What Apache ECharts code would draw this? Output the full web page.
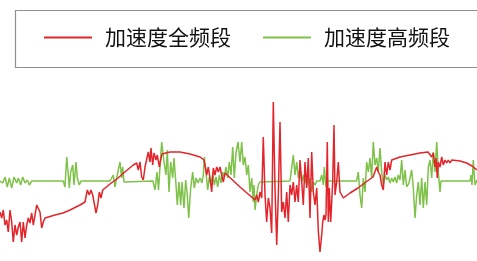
<!DOCTYPE html>
<html>
<head>
<meta charset="utf-8">
<script src="https://cdn.jsdelivr.net/npm/echarts@6/dist/echarts.min.js"></script>
<style>
  html, body { margin: 0; padding: 0; background: #fff; }
  #main { width: 477px; height: 261px; }
</style>
</head>
<body>
<div id="main"></div>
<script>
// series names
var seriesNames = ['加速度全频段', '加速度高频段'];

// 加速度全频段 : sample time / value
var fullT = [0, 1.7, 3.3, 5, 6.7, 8.3, 10, 11.7, 13.3, 15, 16.7, 18.3, 20, 21.7, 23.3, 25, 26.7, 28.3, 30, 31.7, 33.3, 35, 36.7, 38.3, 40, 41.7, 43.3, 45, 46.7,
  55, 63, 70, 76, 80, 85,
  87.3, 89.3, 91, 92.7, 94.3, 96, 97.7, 99.3, 101, 102.7,
  110, 118, 126, 133.3,
  135, 136.7, 138.3, 140, 141.7, 143.3, 145, 146.7, 148.3, 150, 151, 152.7, 154, 156, 157.3, 159.3, 160, 162,
  170, 180, 190, 200, 204,
  205, 206.7, 208.3, 210, 211.7, 213.3, 215, 216.7, 218.3, 220, 221.7, 223.3, 225, 226.7,
  240, 255,
  256.7, 258.3, 260, 261.7, 263.3, 265, 266.7, 268.3, 270, 271.7, 273.3, 275, 276.7, 278.3, 280, 281.7, 283.3, 285, 286.7, 288.3, 290, 291.7, 293.3, 295, 296.7, 298.3, 300, 301.7, 303.3, 305, 306.7, 308.3, 310, 311.7, 313.3, 315, 316.7, 318.3, 320, 321.7, 322.7, 324, 325, 326, 327.3, 328.3, 329.3, 330.7, 332.7, 334, 335, 336.7, 338.3, 340, 341.7, 343.3,
  350, 358, 366, 373,
  375, 376.7, 378.3, 380, 381.7, 383.3, 385, 386.7, 388.3, 390, 391.7,
  400, 410, 420, 428,
  431.7, 433.3, 435, 436, 437.3, 438.3, 440, 441.7, 443.3, 445, 446.7, 448.3, 450, 451.7,
  453.3, 460, 466.7, 472, 477];
var fullAcc = [-31, -37, -29, -44, -39, -51, -29, -41, -61, -44, -54, -46, -41, -61, -41, -57, -44, -37, -42, -32, -44, -34, -24, -22, -31, -47, -41, -37, -36,
  -34, -32, -29, -26, -24, -21,
  -9, -14, -9, -14, -12, -32, -24, -11, -17, -9,
  -3, 3, 10, 16,
  14, 18, 11, 19, 4, 1, 14, 16, 29, 19, 33, 16, 28, 21, 26, 14, 18, 27,
  29, 29, 27, 24, 21,
  19, 6, 14, 3, -11, 13, 6, 14, 9, 14, 6, -1, 8, 6,
  -6, -19,
  -14, -21, -11, -17, 44, -14, -41, -17, -27, -52, 79, -7, -64, -14, 59, -31, -21, -37, -11, -41, -4, -14, -1, -21, -4, -21, 21, -1, -24, 19, -7, 23, -37, 29, -11, -24, -7, -50, -71, -54, -41, -34, -39, -34, 39, -41, -7, -41, -1, 56, -14, -1, 19, -11, -14, -17,
  -12, -7, -1, 4,
  3, 14, 9, 6, -4, -9, 19, 6, 19, 11, 21,
  24, 26, 28, 29,
  24, 28, 14, 23, 3, 19, 14, 24, 16, 21, 18, 21, 18, 21,
  21, 20, 18, 15, 11];

// 加速度高频段 : sample time / value
var highT = [0, 2.7, 5, 7.3, 9.3, 11.7, 14, 16.7, 18.3, 20.7, 22.7, 25, 27.3, 29.3, 31.7,
  63.3, 65, 66.7, 68.3, 69.3, 70.7, 72.7, 74, 76, 77.3, 79.3, 81,
  110, 111.7, 113.3, 115, 116.7, 118.3, 120, 121.7, 122.7, 124, 125,
  153, 155, 157, 158.5, 161.7, 164, 166, 167.3, 169, 170.7, 172.7, 174, 176, 177.3, 179, 180.7, 182, 184, 185.7, 187.3, 188.7, 190.7, 192.7, 194.3, 196, 198, 200, 202, 203.3, 204.3, 206, 207.7, 209.3, 211, 212.7, 214.3, 216, 217.7, 219.3, 221, 222.7, 224.3, 226, 227.7, 229.3, 231, 232.7, 234.3, 236, 238, 240, 241.7, 243.3, 245, 246.7, 248.3, 250, 251.7, 253.3, 254, 255, 256.7, 258.3, 260, 261.7,
  290, 291.7, 293.3, 295, 296.7, 298.3, 300, 301.7, 303.3, 305, 306.7, 308.3, 310, 311.7, 313.3, 315, 316.7, 320, 321.7, 323.3, 324.3, 326, 327.3,
  356.7, 358.3, 360, 361.7, 363.3, 365, 366.7, 368.3, 370, 371.7, 373.3, 375, 376.7, 378.3, 380, 381.7, 383.3, 385, 386.7, 388.3, 390, 391.7, 393.3, 395, 396.7, 398.3, 400, 401.7, 403.3, 405, 406.7, 409, 411.7, 413.3, 415, 416.7, 418.3, 420, 421.7, 423.3, 425, 426.7, 428.3, 430, 431.7, 433.3, 435, 436.7, 438.3, 440, 441,
  470, 471, 472, 473.3, 475, 477];
var highAcc = [0, -2, 4, -6, 3, -7, 4, -2, 3, -4, 4, -2, 1, -4, 0,
  0, -6, 24, 6, -7, 9, 16, -4, 19, 3, -4, 0,
  0, -2, 6, -6, 3, 11, 19, 3, 14, -1, 0,
  0, -9, 9, -9, 39, 19, 6, 31, -11, 19, 3, 23, -4, -24, -1, -24, -1, -27, 1, -14, -37, -7, 9, -7, 3, -2, 3, -2, 6, 24, 9, -9, 4, -4, 8, -4, 4, -6, 6, -2, 9, 4, 14, 3, 19, 6, 34, 3, 28, 39, 19, 39, 16, 24, 6, 16, -11, 3, -21, -4, -29, -14, -4, -1, 0,
  0, 1, 26, 6, 19, 3, 14, -1, 6, -2, 4, -4, 3, -11, -1, -4, 0, 0, 6, -4, 14, -6, 0,
  0, 9, -14, -27, 3, -11, 19, 9, 23, 3, 39, 16, 23, 9, 33, 9, -4, 6, 1, 4, -2, 3, -1, 4, -2, 6, 1, 21, -4, 11, -6, -2, 11, -7, -37, -14, -1, -24, 3, -27, -1, -24, 14, 21, 3, 29, 9, 39, 9, -11, 0,
  0, 6, -4, 21, -4, 1];

function zip(t, v) {
  var out = [];
  for (var i = 0; i < t.length; i++) out.push([t[i], v[i]]);
  return out;
}

var chart = echarts.init(document.getElementById('main'));
var option = {
  animation: false,
  // legend frame, runs off the right edge like the original
  graphic: [{
    type: 'rect',
    left: 13,
    top: 8,
    shape: { width: 490, height: 57 },
    style: { fill: 'none', stroke: '#909090', lineWidth: 1.2 },
    silent: true
  }],
  legend: {
    data: seriesNames,
    orient: 'horizontal',
    left: 44,
    top: 27,
    width: 460,
    padding: 0,
    icon: 'rect',
    itemWidth: 48,
    itemHeight: 2,
    itemGap: 32,
    textStyle: {
      fontFamily: 'Noto Sans CJK SC',
      fontSize: 21,
      color: '#111',
      padding: [0, 0, 0, 8]
    }
  },
  grid: { left: 0, right: 0, top: 90, bottom: 1 },
  xAxis: { type: 'value', min: 0, max: 477, show: false },
  yAxis: { type: 'value', min: -79, max: 91, show: false },
  series: [
    {
      name: seriesNames[0],
      type: 'line',
      symbol: 'none',
      z: 3,
      lineStyle: { color: '#e3242b', width: 1.5 },
      itemStyle: { color: '#e3242b' },
      data: zip(fullT, fullAcc)
    },
    {
      name: seriesNames[1],
      type: 'line',
      symbol: 'none',
      z: 2,
      lineStyle: { color: '#7fc24a', width: 1.5 },
      itemStyle: { color: '#7fc24a' },
      data: zip(highT, highAcc)
    }
  ]
};
chart.setOption(option);
</script>
</body>
</html>
